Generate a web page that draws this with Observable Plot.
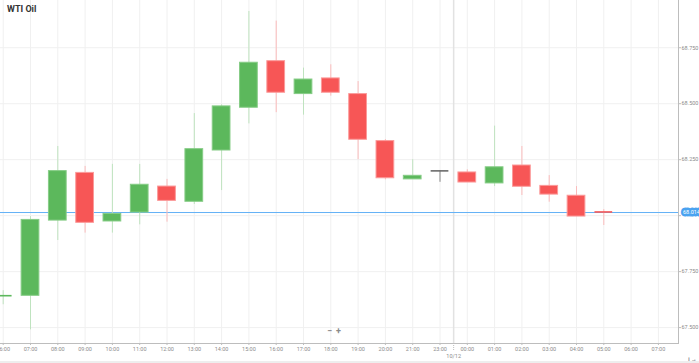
<!DOCTYPE html>
<html>
<head>
<meta charset="utf-8">
<script src="https://cdn.jsdelivr.net/npm/d3@7"></script>
<script src="https://cdn.jsdelivr.net/npm/@observablehq/plot@0.6"></script>
<style>
  html, body { margin: 0; padding: 0; background: #fff; }
  #wrap { position: relative; width: 699px; height: 363px; overflow: hidden; font-family: Roboto, "Open Sans", sans-serif; }
  #title { position: absolute; left: 7px; top: 4px; font-size: 9px; font-weight: 700; color: #333; }
  #zoom { position: absolute; left: 327px; top: 326px; font-size: 9px; font-weight: 700; color: #8a8a8a; letter-spacing: 4px; }
  #strip { position: absolute; left: 0; top: 361px; width: 699px; height: 2px; background: #eeeeee; }
</style>
</head>
<body>
<div id="wrap">
  <div id="chart"></div>
  <div id="title">WTI Oil</div>
  <div id="zoom">−+</div>
  <div id="strip"></div>
</div>
<script>
// Time slots on the axis (22:00 is skipped: market break)
const slots = ["06:00","07:00","08:00","09:00","10:00","11:00","12:00","13:00","14:00","15:00","16:00","17:00","18:00","19:00","20:00","21:00","23:00","00:00","01:00","02:00","03:00","04:00","05:00","06:00","07:00"];
// Candles (one per hour)
const hours = ["06:00","07:00","08:00","09:00","10:00","11:00","12:00","13:00","14:00","15:00","16:00","17:00","18:00","19:00","20:00","21:00","23:00","00:00","01:00","02:00","03:00","04:00","05:00"];
const open  = [67.640,67.642,67.978,68.191,67.974,68.014,68.130,68.062,68.291,68.482,68.690,68.543,68.613,68.543,68.333,68.162,68.200,68.193,68.144,68.224,68.133,68.089,68.019];
const high  = [67.665,67.996,68.309,68.220,68.229,68.229,68.162,68.456,68.495,68.912,68.869,68.659,68.674,68.599,68.340,68.250,68.200,68.205,68.400,68.309,68.179,68.130,68.027];
const low   = [67.602,67.490,67.889,67.922,67.922,67.959,67.971,68.050,68.112,68.410,68.460,68.449,68.534,68.250,68.160,68.162,68.149,68.148,68.130,68.090,68.060,67.996,67.956];
const close = [67.645,67.981,68.199,67.968,68.008,68.138,68.066,68.297,68.488,68.683,68.549,68.608,68.549,68.339,68.167,68.178,68.200,68.148,68.216,68.129,68.094,67.996,68.014];
const yTicks = [67.5, 67.75, 68.0, 68.25, 68.5, 68.75];
const yTickLabels = ["67.500","67.750","","68.250","68.500","68.750"];
const lastPrice = 68.014;
const lastPriceLabel = "68.014";
const dayLabel = "10/12";

const UP = "#5cb85c", UP_EDGE = "#86cc86", UP_WICK = "#bfe3bf";
const DN = "#f75656", DN_EDGE = "#fb9a9a", DN_WICK = "#fbbcbc";
const FLAT = "#6a6a6a";

const data = hours.map((h, k) => {
  const o = open[k], c = close[k];
  const dir = c > o ? "up" : c < o ? "down" : "flat";
  return {i: k, hour: h, open: o, high: high[k], low: low[k], close: c, dir,
          doji: Math.abs(c - o) < 0.008};
});
const bodyColor = d => d.dir === "up" ? UP : d.dir === "down" ? DN : FLAT;
const edgeColor = d => d.dir === "up" ? UP_EDGE : d.dir === "down" ? DN_EDGE : FLAT;
const wickColor = d => d.dir === "up" ? UP_WICK : d.dir === "down" ? DN_WICK : "#888";
const half = 0.325;
const slotIdx = slots.map((s, k) => k);
const daySplit = slots.indexOf("00:00") - 0.5;

const chart = Plot.plot({
  width: 699,
  height: 363,
  marginLeft: 0,
  marginRight: 21,
  marginTop: 0,
  marginBottom: 20,
  style: {fontFamily: "Roboto, 'Open Sans', sans-serif", background: "#fff"},
  x: {type: "linear", domain: [-0.099, slots.length - 0.264], axis: null},
  y: {domain: [67.429, 68.961], axis: null},
  color: {type: "identity"},
  marks: [
    Plot.gridX(slotIdx, {stroke: "#f0f0f0", strokeOpacity: 1}),
    Plot.gridY(yTicks, {stroke: "#f0f0f0", strokeOpacity: 1}),
    Plot.ruleX([daySplit], {stroke: "#e2e2e2", strokeWidth: 1.5}),
    Plot.ruleY([lastPrice], {stroke: "#63b1f6", strokeWidth: 1}),
    Plot.ruleX(data, {x: "i", y1: "low", y2: "high", stroke: wickColor, strokeWidth: 1}),
    Plot.rect(data.filter(d => !d.doji), {
      x1: d => d.i - half, x2: d => d.i + half, y1: "open", y2: "close",
      fill: bodyColor, stroke: edgeColor, strokeWidth: 1
    }),
    Plot.ruleY(data.filter(d => d.doji), {
      y: d => (d.open + d.close) / 2, x1: d => d.i - half, x2: d => d.i + half,
      stroke: bodyColor, strokeWidth: 1.6
    }),
    Plot.frame({anchor: "right", stroke: "#bdbdbd"}),
    Plot.frame({anchor: "bottom", stroke: "#bdbdbd"}),
    Plot.axisX(slotIdx, {
      anchor: "bottom", tickSize: 2, tickPadding: 1.5, fontSize: 5.5,
      tickFormat: k => slots[k], stroke: "#bdbdbd", fill: "#8c8c8c"
    }),
    Plot.axisX([daySplit], {
      anchor: "bottom", tickSize: 8, tickPadding: 2.5, fontSize: 5.5,
      tickFormat: () => dayLabel, stroke: "#bdbdbd", strokeDasharray: "1,1", fill: "#8c8c8c"
    }),
    Plot.axisY(yTicks, {
      anchor: "right", tickSize: 2, tickPadding: 1, fontSize: 5.5,
      tickFormat: (v, k) => yTickLabels[yTicks.indexOf(v)], stroke: "#bdbdbd", fill: "#8c8c8c"
    }),
    Plot.text([lastPrice], {
      y: d => d, frameAnchor: "right", dx: 4.5, textAnchor: "start",
      text: () => lastPriceLabel, fontSize: 5.5, fill: "#fff",
      stroke: "#4aa3f0", strokeWidth: 5, strokeLinejoin: "round"
    })
  ]
});
document.getElementById("chart").appendChild(chart);
</script>
</body>
</html>
